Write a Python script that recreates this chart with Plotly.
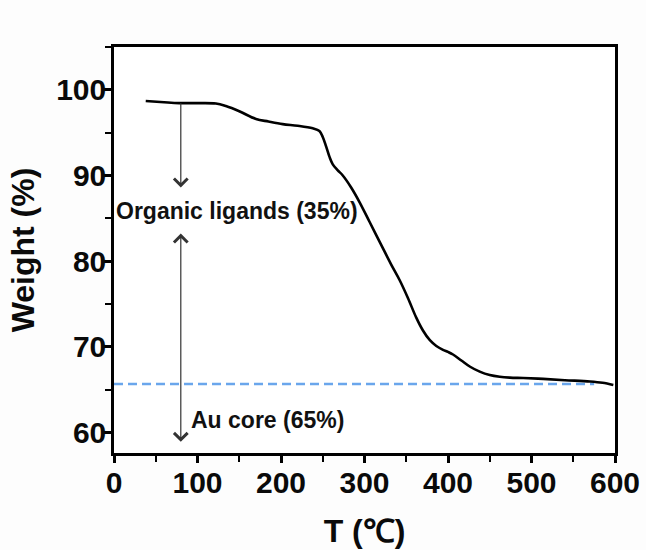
import plotly.graph_objects as go

# TGA curve (T in °C, weight in %)
temp = [38, 60, 78, 100, 122, 134, 150, 170, 185, 202, 220, 238, 246, 250, 254, 258, 262, 268, 274,
        284, 294, 306, 320, 332, 342, 352, 362, 370, 378, 386, 394, 400, 406, 416, 426, 438, 450,
        462, 474, 490, 514, 540, 570, 585, 598]
weight = [98.7, 98.55, 98.45, 98.45, 98.4, 98.1, 97.5, 96.6, 96.3, 96.0, 95.8, 95.5, 95.2, 94.5, 93.4,
          92.2, 91.3, 90.6, 90.0, 88.6, 86.9, 84.6, 81.9, 79.6, 77.8, 75.7, 73.4, 71.9, 70.8, 70.1,
          69.65, 69.4, 69.1, 68.4, 67.7, 67.1, 66.7, 66.5, 66.4, 66.35, 66.25, 66.1, 65.95, 65.8, 65.55]

au_level = 65.65
dash_x = [0, 575]

x_ticks = [0, 100, 200, 300, 400, 500, 600]
y_ticks = [60, 70, 80, 90, 100]

arrow_x = 80
ligand_arrow = (98.6, 88.6)      # start, end
core_arrow = (83.4, 58.9)        # top, bottom
ligand_label = ("Organic ligands (35%)", 147, 85.9)
core_label = ("Au core (65%)", 184, 61.5)

family = "Liberation Sans"

fig = go.Figure()
fig.add_trace(go.Scatter(x=dash_x, y=[au_level, au_level], mode="lines",
                         line=dict(color="#6aa6ec", width=2.5, dash="9px,5px"), hoverinfo="skip"))
fig.add_trace(go.Scatter(x=temp, y=weight, mode="lines", line=dict(color="black", width=2.6, shape="spline"),
                         hoverinfo="skip"))

# Arrows
fig.add_annotation(x=arrow_x, y=ligand_arrow[1], ax=arrow_x, ay=ligand_arrow[0], xref="x", yref="y",
                   axref="x", ayref="y", showarrow=True, arrowhead=4, arrowsize=2.2, arrowwidth=1.2,
                   arrowcolor="#333333", text="")
fig.add_annotation(x=arrow_x, y=core_arrow[1], ax=arrow_x, ay=core_arrow[0], xref="x", yref="y",
                   axref="x", ayref="y", showarrow=True, arrowhead=4, startarrowhead=4, arrowside="end+start",
                   arrowsize=2.2, startarrowsize=2.2, arrowwidth=1.2, arrowcolor="#333333", text="")

for txt, tx, ty in (ligand_label, core_label):
    fig.add_annotation(x=tx, y=ty, xref="x", yref="y", text=txt, showarrow=False,
                       font=dict(family=family, size=23, color="#111111", weight="bold"))

axis_common = dict(showline=True, linecolor="black", linewidth=2.5, mirror=True, showgrid=False,
                   zeroline=False, ticks="outside", ticklen=7, tickwidth=2.5, tickcolor="black",
                   automargin=False,
                   tickfont=dict(family=family, size=30, color="#0a0a0a", weight="bold"))

fig.update_layout(
    template="none",
    width=646, height=550,
    margin=dict(l=114, r=31, t=47, b=97, autoexpand=False),
    paper_bgcolor="#fdfdfd", plot_bgcolor="white",
    showlegend=False,
    xaxis=dict(range=[0, 600], tickvals=x_ticks, ticklabelstandoff=-6, **axis_common,
               minor=dict(dtick=50, tick0=0, ticks="outside", ticklen=6, tickwidth=2, tickcolor="black", showgrid=False),
               title=dict(text="T (℃)", standoff=22,
                          font=dict(family=family, size=32, color="#0a0a0a", weight="bold"))),
    yaxis=dict(range=[57.6, 105], tickvals=y_ticks, ticklabelstandoff=-8, **axis_common,
               minor=dict(dtick=5, tick0=0, ticks="outside", ticklen=6, tickwidth=2, tickcolor="black", showgrid=False),
               title=dict(text="Weight (%)", standoff=12,
                          font=dict(family=family, size=32, color="#0a0a0a", weight="bold"))),
)

fig.write_html("out.html")
